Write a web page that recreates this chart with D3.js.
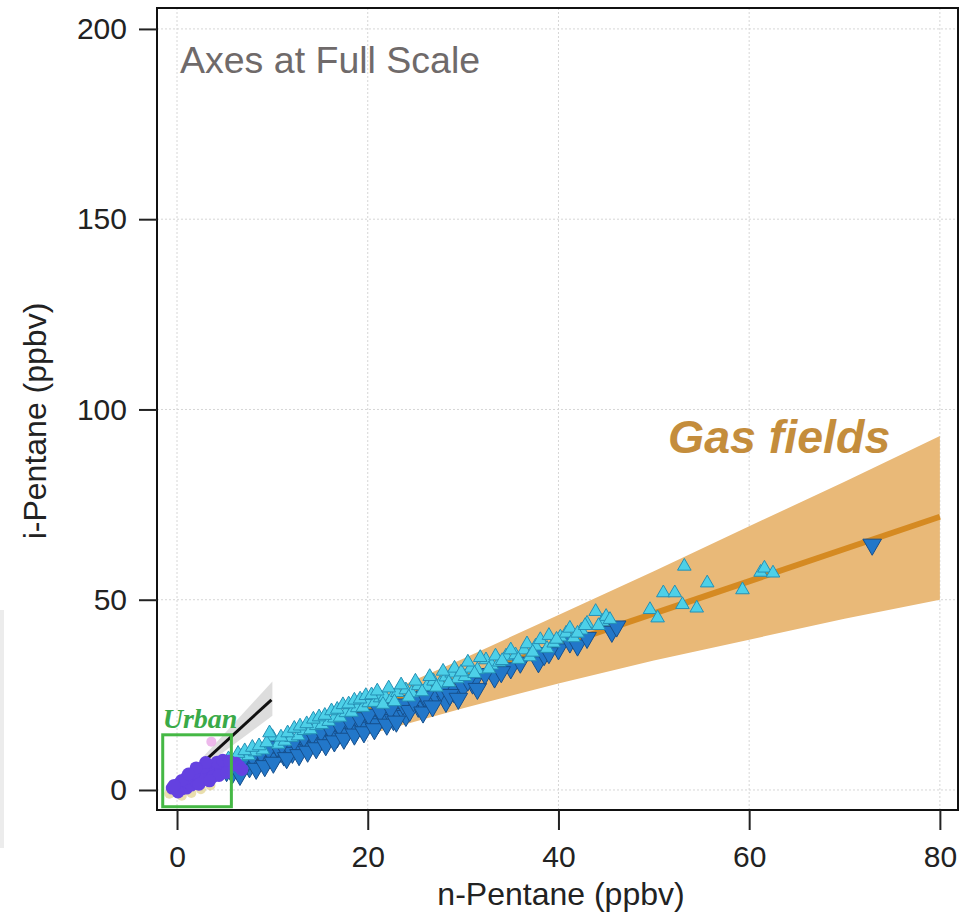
<!DOCTYPE html>
<html>
<head>
<meta charset="utf-8">
<script src="https://cdn.jsdelivr.net/npm/d3@7"></script>
<style>
  html, body { margin: 0; padding: 0; background: #fff; }
  svg { display: block; font-family: "Liberation Sans", Arial, sans-serif; }
</style>
</head>
<body>
<svg id="chart" width="967" height="916"></svg>
<script>
// Axis ticks
const xTicks = [0, 20, 40, 60, 80];
const yTicks = [0, 50, 100, 150, 200];

// Gas-field regression band (n-pentane vs. upper / lower i-pentane)
const bandN  = [14, 20, 30, 40, 50, 60, 70, 80];
const bandHi = [16.5, 23.5, 34.5, 46, 57.5, 69.3, 81, 93];
const bandLo = [11.0, 14.5, 21.5, 28, 34, 39.5, 45, 50];

// Gas-field fit line
const fitN = [14, 80];
const fitI = [15.9, 71.8];

// Urban fit line and its uncertainty wedge
const urbanFitN = [0.5, 9.9];
const urbanFitI = [2.1, 23.7];
const urbanBandN  = [0.5, 10];
const urbanBandHi = [2.6, 28.5];
const urbanBandLo = [1.8, 19.5];

// Urban box extent
const urbanBoxN = [-1.5, 5.7];
const urbanBoxI = [-4.4, 14.5];

// Gas-field samples, down-pointing markers [n-pentane, i-pentane]
const gasDown = [
  [5.2,5.0],[5.8,4.4],[6.3,6.0],[6.8,5.2],[7.2,7.1],[7.6,6.0],[8.1,7.6],[8.5,6.8],
  [9.0,8.4],[9.4,7.5],[9.9,9.2],[10.3,8.3],[10.8,10.0],[11.2,9.1],[11.7,10.8],[12.1,9.8],
  [12.6,11.6],[13.0,10.6],[13.5,12.3],[13.9,11.4],[14.4,13.2],[14.9,12.3],[15.3,14.0],[15.8,13.0],
  [16.3,14.8],[16.8,13.9],[17.3,15.6],[17.8,14.8],[18.3,16.4],[18.8,15.6],[19.3,17.2],[19.8,16.4],
  [20.4,18.0],[21.0,17.3],[21.6,19.0],[22.7,18.4],[23.3,20.0],[24.0,19.5],[25.3,21.9],[26.3,22.8],
  [27.2,24.5],[28.2,23.2],[29.0,25.8],[30.0,27.0],[31.0,28.0],[33.3,29.6],[35.0,32.0],[37.9,33.6],
  [40.0,37.0],[41.2,38.8],[42.0,38.0],[45.6,41.6],[46.1,43.0],[72.9,64.5],
  [5.5,6.5],[6.1,7.4],[6.6,4.0],[7.0,8.3],[7.9,8.9],[8.3,5.6],[8.8,9.8],[9.2,6.3],
  [9.6,10.7],[10.1,7.2],[10.5,11.4],[11.0,12.0],[11.5,8.4],[12.3,12.9],[12.8,9.2],[13.3,13.9],
  [13.7,10.1],[14.2,14.6],[14.6,11.0],[15.1,15.4],[15.6,11.8],[16.0,16.2],[16.5,12.8],[17.0,17.0],
  [17.5,13.5],[18.1,18.0],[18.6,14.6],[19.1,18.9],[19.6,15.2],[20.1,19.8],[20.7,16.0],[21.3,20.6],
  [22.0,17.2],[22.4,21.3],[23.0,18.0],[23.7,22.5],[24.4,20.8],[24.8,23.4],[25.8,20.4],[26.0,24.6],
  [26.8,22.0],[27.7,26.2],[28.6,25.0],[29.5,24.0],[30.5,28.8],[31.5,26.6],[32.3,30.5],[34.0,31.0],
  [36.0,33.5],[38.5,35.5],[39.0,36.0],[43.0,40.0]
];

// Gas-field samples, up-pointing markers [n-pentane, i-pentane]
const gasUp = [
  [6.0,7.5],[6.7,8.8],[7.5,9.0],[8.2,10.0],[9.0,10.5],[10.0,14.0],[10.6,12.0],[11.3,12.8],
  [12.0,13.8],[12.7,14.2],[13.3,15.6],[14.0,15.8],[14.6,16.9],[15.2,17.2],[15.9,18.0],[16.5,18.9],
  [17.1,19.1],[17.7,20.3],[18.3,20.4],[18.9,21.6],[19.5,21.7],[20.1,22.9],[20.7,23.0],[21.3,24.2],
  [21.8,24.6],[22.5,24.0],[23.1,25.6],[24.0,26.3],[24.6,25.5],[25.3,27.4],[26.2,27.2],[26.9,28.6],
  [27.6,28.0],[28.2,29.7],[28.8,30.7],[29.4,29.2],[30.2,29.8],[30.8,32.0],[31.5,31.6],[32.4,34.2],
  [33.0,32.8],[33.8,33.6],[34.5,35.2],[35.5,35.5],[36.4,36.8],[37.0,35.0],[37.6,37.8],[38.1,39.5],
  [38.8,37.2],[39.5,38.6],[40.2,40.2],[40.8,41.2],[41.6,40.0],[42.4,42.0],[43.0,43.8],[43.9,46.9],
  [44.6,44.3],[45.0,45.6],[49.6,47.4],[50.4,45.2],[51.0,51.8],[52.2,51.8],[53.0,48.7],[53.2,58.8],
  [54.5,47.8],[55.6,54.4],[59.3,52.6],[61.2,57.2],[61.6,58.3],[62.5,57.0],
  [5.4,8.2],[6.4,9.6],[7.1,10.3],[7.9,11.2],[8.6,11.6],[9.4,12.4],[9.7,15.0],[10.9,13.9],
  [11.6,15.0],[12.3,16.2],[12.9,16.8],[13.6,17.4],[14.3,18.6],[14.9,19.2],[15.5,19.6],[16.2,20.8],
  [16.8,21.2],[17.4,22.4],[18.0,22.6],[18.6,23.6],[19.2,23.9],[19.8,24.8],[20.4,25.0],[21.0,26.0],
  [21.6,22.5],[22.2,26.8],[22.8,23.2],[23.5,27.6],[24.3,24.4],[25.0,28.6],[25.7,25.8],[26.5,29.8],
  [27.2,27.0],[27.9,31.2],[28.5,28.2],[29.1,32.0],[29.8,31.0],[30.5,33.6],[31.2,30.6],[31.8,34.8],
  [32.7,31.8],[33.4,35.2],[34.1,34.0],[35.0,36.8],[35.8,34.3],[36.7,38.4],[37.3,36.2],[39.0,40.6],
  [39.8,39.6],[41.2,42.5],[42.0,41.2],[42.8,43.2],[44.2,43.2],[45.4,44.8]
];

// Urban samples [n-pentane, i-pentane]
const urban = [
  [-0.5,0.5],[0.0,0.2],[0.2,1.0],[0.5,0.3],[0.3,1.8],[0.8,1.2],[1.0,0.5],[1.2,2.0],
  [1.5,1.3],[1.6,3.0],[2.0,2.2],[2.2,3.8],[2.5,2.8],[2.6,4.8],[3.0,3.5],[3.2,5.5],
  [3.5,4.2],[3.7,6.3],[4.0,5.0],[4.3,6.2],[4.6,5.5],[5.0,6.5],[5.4,6.0],[5.8,6.8],
  [6.2,7.0],[1.0,3.2],[0.5,2.5],[2.8,6.0],[1.8,4.5],[4.2,7.3],[0.1,-0.5],[-0.3,1.2],
  [2.3,1.5],[3.8,3.6],[4.8,7.8],[5.5,7.6],[6.5,6.2],[6.8,5.4],[3.0,7.2],[2.0,5.8],
  [1.2,4.2],[4.4,3.8],[5.2,4.6],[3.4,2.4]
];
// Sparse background samples near the origin
const faint = [[0.5,-1.5],[1.5,-0.8],[2.5,0.2],[3.5,1.2],[-0.8,-1.0]];
const faintPink = [[3.6,12.7]];

const svg = d3.select("#chart");

const x = d3.scaleLinear().domain([-2.1, 81.9]).range([157, 958]);
const y = d3.scaleLinear().domain([-5.26, 205.5]).range([810, 8]);

// faint edge strip on the far left
svg.append("rect").attr("x", 0).attr("y", 610).attr("width", 4).attr("height", 238)
  .attr("fill", "#ececec");

// grid
const grid = svg.append("g");
grid.selectAll("line.gx").data(xTicks).join("line")
  .attr("x1", d => x(d)).attr("x2", d => x(d))
  .attr("y1", y.range()[1]).attr("y2", y.range()[0])
  .attr("stroke", "#d6d6d6").attr("stroke-width", 1).attr("stroke-dasharray", "2,2");
grid.selectAll("line.gy").data(yTicks).join("line")
  .attr("y1", d => y(d)).attr("y2", d => y(d))
  .attr("x1", x.range()[0]).attr("x2", x.range()[1])
  .attr("stroke", "#d6d6d6").attr("stroke-width", 1).attr("stroke-dasharray", "2,2");

// gas-field band
const band = bandN.map((n, k) => ({ n, hi: bandHi[k], lo: bandLo[k] }));
svg.append("path").datum(band)
  .attr("fill", "#e9b978")
  .attr("d", d3.area().x(d => x(d.n)).y0(d => y(d.lo)).y1(d => y(d.hi)));

// gas-field fit
const fit = fitN.map((n, k) => [n, fitI[k]]);
svg.append("path").datum(fit)
  .attr("fill", "none").attr("stroke", "#d58a22").attr("stroke-width", 6)
  .attr("d", d3.line().x(d => x(d[0])).y(d => y(d[1])));

// urban wedge and fit
const uband = urbanBandN.map((n, k) => ({ n, hi: urbanBandHi[k], lo: urbanBandLo[k] }));
svg.append("path").datum(uband)
  .attr("fill", "#cfcfcf").attr("opacity", 0.7)
  .attr("d", d3.area().x(d => x(d.n)).y0(d => y(d.lo)).y1(d => y(d.hi)));
const ufit = urbanFitN.map((n, k) => [n, urbanFitI[k]]);
svg.append("path").datum(ufit)
  .attr("fill", "none").attr("stroke", "#111").attr("stroke-width", 3)
  .attr("d", d3.line().x(d => x(d[0])).y(d => y(d[1])));

// background samples
svg.append("g").selectAll("circle").data(faint).join("circle")
  .attr("cx", d => x(d[0])).attr("cy", d => y(d[1])).attr("r", 5)
  .attr("fill", "#d8c46a").attr("opacity", 0.55);
svg.append("g").selectAll("circle").data(faintPink).join("circle")
  .attr("cx", d => x(d[0])).attr("cy", d => y(d[1])).attr("r", 5)
  .attr("fill", "#e9a8e6").attr("opacity", 0.8);

// markers
const triUp = d3.symbol().type(d3.symbolTriangle).size(80);
const triDown = d3.symbol().type(d3.symbolTriangle).size(150);

svg.append("g").selectAll("path").data(gasDown).join("path")
  .attr("transform", d => `translate(${x(d[0])},${y(d[1])}) rotate(180)`)
  .attr("d", triDown)
  .attr("fill", "#2277c9").attr("stroke", "#164f8c").attr("stroke-width", 1);

svg.append("g").selectAll("path").data(gasUp).join("path")
  .attr("transform", d => `translate(${x(d[0])},${y(d[1])})`)
  .attr("d", triUp)
  .attr("fill", "#4dd0e8").attr("stroke", "#2590b5").attr("stroke-width", 1);

svg.append("g").selectAll("circle").data(urban).join("circle")
  .attr("cx", d => x(d[0])).attr("cy", d => y(d[1])).attr("r", 6.5)
  .attr("fill", "#6441e0");

// urban box
svg.append("rect")
  .attr("x", x(urbanBoxN[0])).attr("y", y(urbanBoxI[1]))
  .attr("width", x(urbanBoxN[1]) - x(urbanBoxN[0]))
  .attr("height", y(urbanBoxI[0]) - y(urbanBoxI[1]))
  .attr("fill", "none").attr("stroke", "#45b845").attr("stroke-width", 3);

// labels
svg.append("text").attr("x", x(-1.5)).attr("y", y(16.3))
  .attr("font-family", "Liberation Serif, serif").attr("font-style", "italic")
  .attr("font-weight", "bold").attr("font-size", 28).attr("fill", "#3aaa48")
  .text("Urban");
svg.append("text").attr("x", 668).attr("y", 453)
  .attr("font-style", "italic").attr("font-weight", "bold")
  .attr("font-size", 46.5).attr("fill", "#c48d3c")
  .text("Gas fields");
svg.append("text").attr("x", 180).attr("y", 73)
  .attr("font-size", 37.5).attr("fill", "#6f6a6a")
  .text("Axes at Full Scale");

// frame
svg.append("rect")
  .attr("x", x.range()[0]).attr("y", y.range()[1])
  .attr("width", x.range()[1] - x.range()[0]).attr("height", y.range()[0] - y.range()[1])
  .attr("fill", "none").attr("stroke", "#111").attr("stroke-width", 2);

// axes
const xAxis = svg.append("g").attr("transform", `translate(0,${y.range()[0]})`)
  .call(d3.axisBottom(x).tickValues(xTicks).tickSize(20).tickPadding(16));
const yAxis = svg.append("g").attr("transform", `translate(${x.range()[0]},0)`)
  .call(d3.axisLeft(y).tickValues(yTicks).tickSize(18).tickPadding(12));
[xAxis, yAxis].forEach(a => {
  a.select(".domain").remove();
  a.selectAll(".tick line").attr("stroke", "#222").attr("stroke-width", 2);
  a.selectAll(".tick text").attr("font-size", 30).attr("fill", "#222")
    .attr("font-family", "Liberation Sans, Arial, sans-serif");
});

svg.append("text").attr("x", 561).attr("y", 905).attr("text-anchor", "middle")
  .attr("font-size", 32).attr("fill", "#222").text("n-Pentane (ppbv)");
svg.append("text").attr("transform", "translate(46,421) rotate(-90)")
  .attr("text-anchor", "middle")
  .attr("font-size", 32).attr("fill", "#222").text("i-Pentane (ppbv)");
</script>
</body>
</html>
